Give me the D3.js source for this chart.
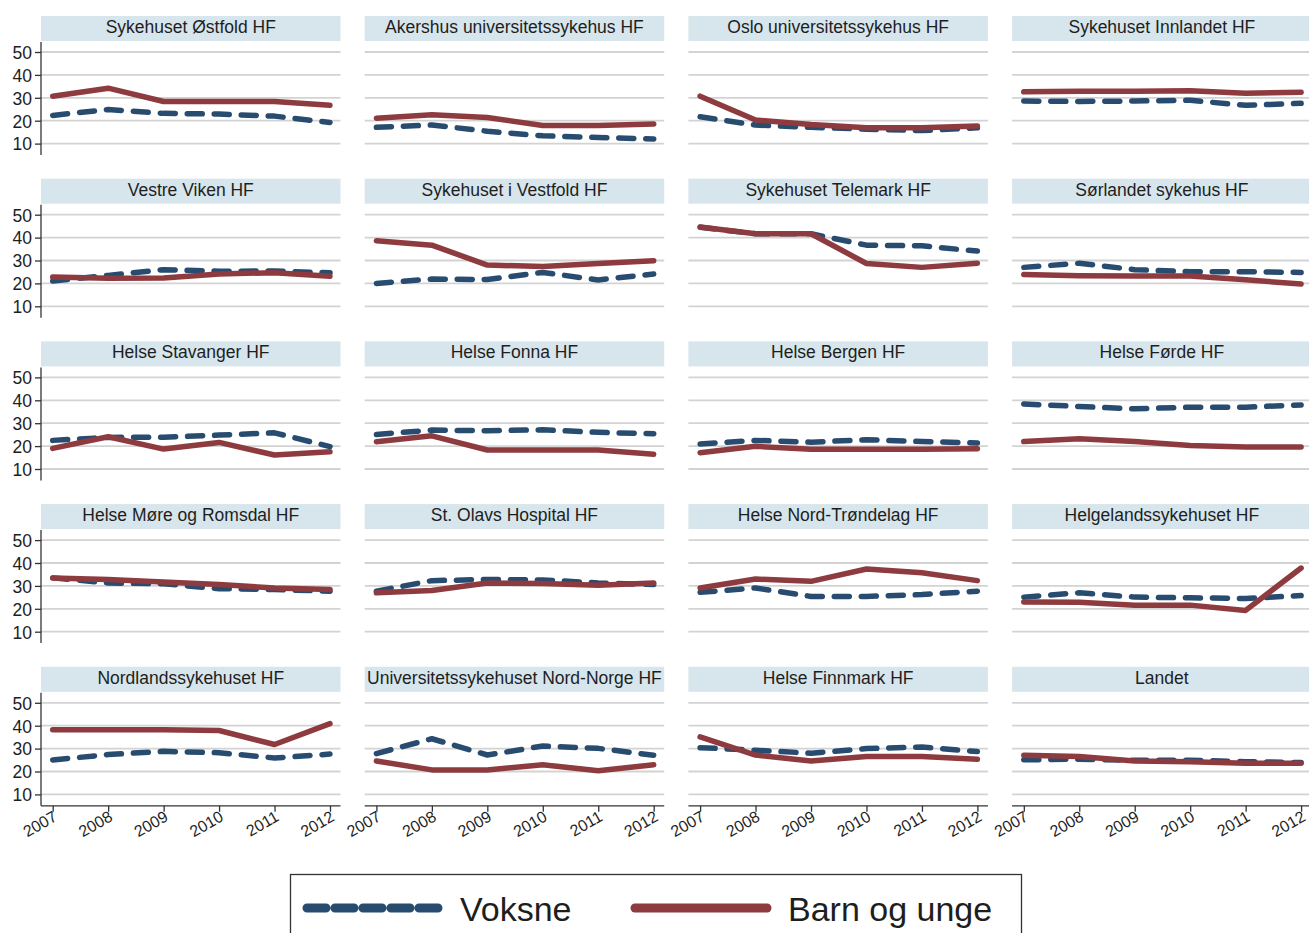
<!DOCTYPE html>
<html>
<head>
<meta charset="utf-8">
<script src="https://cdn.jsdelivr.net/npm/d3@7"></script>
<style>
  html, body { margin: 0; padding: 0; background: #ffffff; }
  svg { display: block; font-family: "Liberation Sans", Arial, sans-serif; }
</style>
</head>
<body>
<svg id="chart" width="1309" height="933"></svg>
<script>
const years = [2007, 2008, 2009, 2010, 2011, 2012];
const yTicks = [10, 20, 30, 40, 50];

const panels = [
  "Sykehuset Østfold HF", "Akershus universitetssykehus HF", "Oslo universitetssykehus HF", "Sykehuset Innlandet HF",
  "Vestre Viken HF", "Sykehuset i Vestfold HF", "Sykehuset Telemark HF", "Sørlandet sykehus HF",
  "Helse Stavanger HF", "Helse Fonna HF", "Helse Bergen HF", "Helse Førde HF",
  "Helse Møre og Romsdal HF", "St. Olavs Hospital HF", "Helse Nord-Trøndelag HF", "Helgelandssykehuset HF",
  "Nordlandssykehuset HF", "Universitetssykehuset Nord-Norge HF", "Helse Finnmark HF", "Landet"
];

const voksne = [
  [22.3, 24.9, 23.2, 22.9, 22.0, 19.2],
  [17.1, 18.1, 15.4, 13.4, 12.7, 12.0],
  [21.7, 18.1, 17.1, 16.3, 15.7, 16.9],
  [28.6, 28.4, 28.6, 28.9, 26.7, 27.6],
  [21.0, 23.5, 26.0, 25.3, 25.4, 24.6],
  [20.0, 21.9, 21.7, 24.8, 21.5, 24.1],
  [44.5, 41.7, 41.7, 36.7, 36.4, 34.1],
  [27.0, 28.8, 26.0, 25.1, 25.1, 24.8],
  [22.5, 23.8, 23.9, 24.8, 25.8, 19.8],
  [25.1, 27.0, 26.7, 27.1, 26.0, 25.4],
  [20.9, 22.5, 21.7, 22.8, 22.0, 21.4],
  [38.4, 37.3, 36.3, 37.0, 37.0, 38.0],
  [33.5, 31.3, 30.9, 28.8, 28.4, 27.7],
  [27.7, 32.3, 32.8, 32.6, 31.3, 30.6],
  [27.2, 29.1, 25.4, 25.4, 26.2, 27.7],
  [25.1, 27.0, 25.1, 24.8, 24.5, 25.8],
  [25.0, 27.4, 28.8, 28.2, 25.9, 27.6],
  [27.8, 34.3, 27.2, 31.1, 30.1, 27.1],
  [30.4, 29.3, 28.0, 30.0, 30.7, 28.7],
  [25.1, 25.4, 24.9, 24.9, 24.3, 23.9]
];

const barn = [
  [30.7, 34.2, 28.4, 28.4, 28.4, 26.7],
  [21.1, 22.6, 21.4, 17.9, 17.9, 18.6],
  [30.7, 20.3, 18.3, 16.9, 16.9, 17.7],
  [32.6, 32.9, 32.9, 33.1, 32.0, 32.4],
  [22.8, 22.2, 22.4, 24.1, 24.7, 23.1],
  [38.6, 36.7, 28.0, 27.4, 28.7, 29.9],
  [44.6, 41.7, 41.7, 28.7, 27.0, 28.8],
  [23.9, 23.3, 23.2, 23.2, 21.6, 19.7],
  [19.0, 24.1, 18.7, 21.6, 16.1, 17.5],
  [21.9, 24.5, 18.3, 18.3, 18.3, 16.4],
  [17.1, 19.9, 18.6, 18.6, 18.6, 18.8],
  [22.0, 23.2, 22.0, 20.3, 19.6, 19.6],
  [33.5, 32.8, 31.7, 30.6, 29.1, 28.4],
  [27.0, 28.0, 31.3, 31.0, 30.3, 31.3],
  [29.1, 33.0, 32.0, 37.4, 35.7, 32.3],
  [23.0, 22.9, 21.6, 21.6, 19.3, 37.8],
  [38.2, 38.2, 38.2, 37.9, 31.8, 40.9],
  [24.6, 20.7, 20.7, 22.9, 20.3, 22.9],
  [35.1, 27.2, 24.6, 26.5, 26.5, 25.4],
  [27.1, 26.5, 24.6, 24.3, 23.6, 23.6]
];

const seriesNames = ["Voksne", "Barn og unge"];
const colVoksne = "#284b70";
const colBarn = "#8e3b40";
const stripFill = "#d7e5ec";
const gridCol = "#d3d3d3";
const textCol = "#1e1e1e";

const svg = d3.select("#chart");

const nCols = 4, nRows = 5;
const colStep = 323.7, rowStep = 162.7;
const panelW = 299.5;
const stripH = 25, plotH = 113;

panels.forEach((name, i) => {
  const c = i % nCols, r = Math.floor(i / nCols);
  const x0 = 41 + c * colStep;
  const top = 16 + r * rowStep;
  const pTop = top + stripH + 1;
  const pBot = pTop + plotH;

  const g = svg.append("g");

  const x = d3.scaleLinear().domain([2007, 2012]).range([x0 + 11.7, x0 + 289]);
  const y = d3.scaleLinear().domain([10, 50]).range([pTop + 101.6, pTop + 10]);

  g.append("rect")
    .attr("x", x0).attr("y", top)
    .attr("width", panelW).attr("height", stripH)
    .attr("fill", stripFill);
  g.append("text")
    .attr("x", x0 + panelW / 2).attr("y", top + stripH / 2 + 4.5)
    .attr("text-anchor", "middle")
    .attr("font-size", 17.5)
    .attr("fill", textCol)
    .text(name);

  g.selectAll("line.grid").data(yTicks).enter().append("line")
    .attr("x1", x0).attr("x2", x0 + panelW)
    .attr("y1", d => y(d)).attr("y2", d => y(d))
    .attr("stroke", gridCol).attr("stroke-width", 1.8);

  if (c === 0) {
    const ya = d3.axisLeft(y).tickValues(yTicks).tickSize(6).tickPadding(3).tickSizeOuter(0);
    const ag = g.append("g").attr("transform", `translate(${x0},0)`).call(ya);
    ag.select(".domain").attr("d", `M0,${pTop}V${pBot}`).attr("stroke", "#333").attr("stroke-width", 1.3);
    ag.selectAll(".tick line").attr("stroke", "#333").attr("stroke-width", 1.3);
    ag.selectAll(".tick text").attr("font-size", 17.5).attr("fill", textCol)
      .attr("font-family", "Liberation Sans, Arial, sans-serif").attr("dy", "0.36em");
  }

  if (r === nRows - 1) {
    const xa = d3.axisBottom(x).tickValues(years).tickFormat(d3.format("d")).tickSize(6).tickSizeOuter(0);
    const ag = g.append("g").attr("transform", `translate(0,${pBot})`).call(xa);
    ag.select(".domain").attr("d", `M${x0},0H${x0 + panelW}`).attr("stroke", "#333").attr("stroke-width", 1.3);
    ag.selectAll(".tick line").attr("stroke", "#333").attr("stroke-width", 1.3);
    ag.selectAll(".tick text")
      .attr("font-size", 16).attr("fill", textCol)
      .attr("font-family", "Liberation Sans, Arial, sans-serif")
      .attr("text-anchor", "end")
      .attr("dy", null).attr("y", 0)
      .attr("transform", "translate(5,14) rotate(-30)");
  }

  const line = d3.line().x((d, k) => x(years[k])).y(d => y(d));

  g.append("path").datum(voksne[i])
    .attr("d", line)
    .attr("fill", "none")
    .attr("stroke", colVoksne)
    .attr("stroke-width", 5.5)
    .attr("stroke-linecap", "round")
    .attr("stroke-linejoin", "round")
    .attr("stroke-dasharray", "15,12");

  g.append("path").datum(barn[i])
    .attr("d", line)
    .attr("fill", "none")
    .attr("stroke", colBarn)
    .attr("stroke-width", 5.5)
    .attr("stroke-linecap", "round")
    .attr("stroke-linejoin", "round");
});

const lg = svg.append("g");
lg.append("rect")
  .attr("x", 290.5).attr("y", 874.5)
  .attr("width", 731).attr("height", 80)
  .attr("fill", "none").attr("stroke", "#333").attr("stroke-width", 1.3);

const legendItems = [
  { name: seriesNames[0], color: colVoksne, dash: "19,9", x1: 307, x2: 440, tx: 460 },
  { name: seriesNames[1], color: colBarn, dash: null, x1: 635, x2: 767, tx: 788 }
];
legendItems.forEach(it => {
  lg.append("line")
    .attr("x1", it.x1).attr("x2", it.x2)
    .attr("y1", 908).attr("y2", 908)
    .attr("stroke", it.color).attr("stroke-width", 9)
    .attr("stroke-linecap", "round")
    .attr("stroke-dasharray", it.dash);
  lg.append("text")
    .attr("x", it.tx).attr("y", 921)
    .attr("font-size", 34)
    .attr("fill", textCol)
    .text(it.name);
});
</script>
</body>
</html>
